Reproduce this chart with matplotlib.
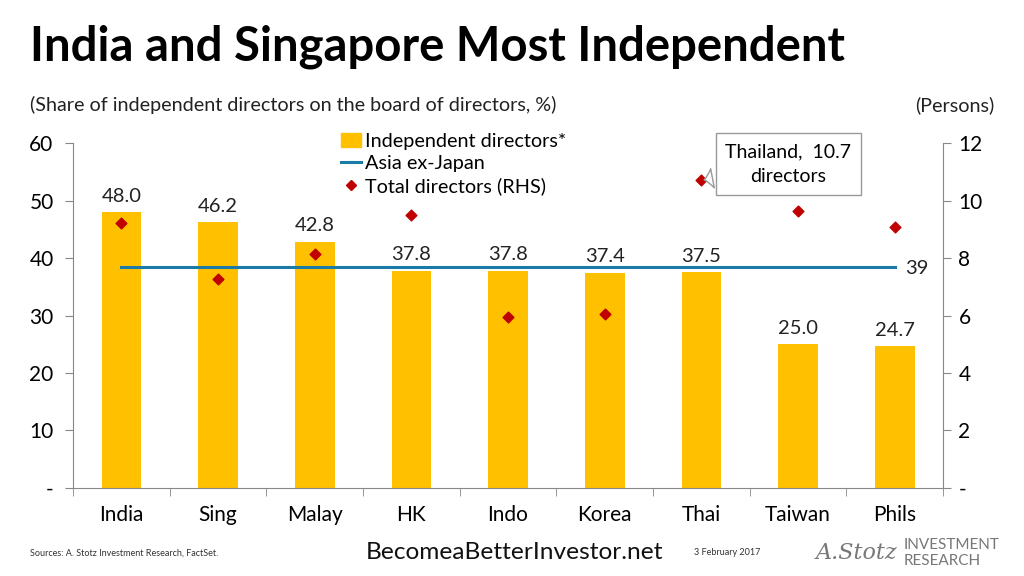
import matplotlib.pyplot as plt
import numpy as np
from matplotlib.lines import Line2D
from matplotlib.patches import Patch

plt.rcParams['font.family'] = ['Lato', 'DejaVu Sans']

# data
countries = ["India", "Sing", "Malay", "HK", "Indo", "Korea", "Thai", "Taiwan", "Phils"]
independent = [48.0, 46.2, 42.8, 37.8, 37.8, 37.4, 37.5, 25.0, 24.7]
asia_ex_japan = 38.5
total_directors = [9.22, 7.27, 8.14, 9.5, 5.95, 6.05, 10.7, 9.63, 9.08]

bar_col = "#FFC000"
line_col = "#1C7AA6"
dot_col = "#C00000"

fig = plt.figure(figsize=(10.24, 5.76), dpi=100)
ax = fig.add_axes([0.0713, 0.1528, 0.8497, 0.5989])
ax2 = ax.twinx()

x = np.arange(len(countries))
ax.bar(x, independent, width=0.41, color=bar_col, zorder=2)
for xi, v in zip(x, independent):
    ax.text(xi, v + 1.3, f"{v:.1f}", ha="center", va="bottom", fontsize=14.5, color="#222222")

ax.plot([x[0], x[-1]], [asia_ex_japan, asia_ex_japan], color=line_col, lw=2.2, zorder=3)
ax.text(x[-1] + 0.11, asia_ex_japan - 0.3, "39", ha="left", va="center", fontsize=14.5,
        color="#222222")

ax2.scatter(x, total_directors, marker="D", s=30, color=dot_col, zorder=4)

ax.set_xlim(-0.5, len(countries) - 0.5)
ax.set_ylim(0, 60)
ax2.set_ylim(0, 12)
ax.set_yticks(range(0, 61, 10))
ax.set_yticklabels(["-"] + [str(v) for v in range(10, 61, 10)])
ax2.set_yticks(range(0, 13, 2))
ax2.set_yticklabels(["-"] + [str(v) for v in range(2, 13, 2)])

ax.set_xticks(x)
ax.set_xticklabels(countries)
ax.set_xticks(np.arange(-0.5, len(countries), 1.0), minor=True)
ax.tick_params(axis="x", which="major", length=0, pad=12, labelsize=15)
ax.tick_params(axis="x", which="minor", length=6, color="#888888", direction="out")
ax.tick_params(axis="y", length=6, color="#888888", labelsize=15, pad=8)
ax2.tick_params(axis="y", length=6, color="#888888", labelsize=15, pad=5)

for a in (ax, ax2):
    a.spines["top"].set_visible(False)
    for s in ("left", "right", "bottom"):
        a.spines[s].set_color("#888888")
ax.spines["right"].set_visible(False)
ax2.spines["left"].set_visible(False)
ax2.spines["bottom"].set_visible(False)

# callout
ax2.annotate("Thailand,  10.7\ndirectors", xy=(x[6], total_directors[6]),
             xytext=(x[6] + 0.9, 11.27), ha="center", va="center", fontsize=14,
             linespacing=1.55,
             bbox=dict(boxstyle="square,pad=0.5", fc="white", ec="#999999", lw=1),
             arrowprops=dict(arrowstyle="wedge,tail_width=1.0,shrink_factor=0.4",
                             fc="white", ec="#999999", lw=1), zorder=5)

handles = [Patch(color=bar_col),
           Line2D([0], [0], color=line_col, lw=2.2),
           Line2D([0], [0], marker="D", color="none", markerfacecolor=dot_col,
                  markeredgecolor=dot_col, markersize=5.5)]
labels = ["Independent directors*", "Asia ex-Japan", "Total directors (RHS)"]
fig.legend(handles, labels, loc="upper left", bbox_to_anchor=(0.325, 0.783), frameon=False,
           fontsize=14.3, handlelength=1.0, handletextpad=0.2, labelspacing=0.25,
           borderaxespad=0)

fig.text(0.029, 0.918, "India and Singapore Most Independent", fontsize=34, fontweight="bold",
         va="center", ha="left", color="black")
fig.text(0.029, 0.818, "(Share of independent directors on the board of directors, %)",
         fontsize=14.2, va="center", ha="left", color="#222222")
fig.text(0.971, 0.818, "(Persons)", fontsize=14.2, va="center", ha="right", color="#222222")

fig.text(0.029, 0.04, "Sources: A. Stotz Investment Research, FactSet.", fontsize=6.5,
         va="center", ha="left", color="#333333")
fig.text(0.357, 0.04, "BecomeaBetterInvestor.net", fontsize=17.6, va="center", ha="left",
         color="#111111")
fig.text(0.678, 0.04, "3 February 2017", fontsize=6.5, va="center", ha="left", color="#333333")
fig.text(0.797, 0.04, "A.Stotz", fontsize=16, style="italic", va="center", ha="left",
         color="#777777", family="DejaVu Serif")
fig.text(0.882, 0.04, "INVESTMENT\nRESEARCH", fontsize=11, va="center", ha="left",
         color="#777777", linespacing=1.1)

fig.savefig("out.png", dpi=100)
